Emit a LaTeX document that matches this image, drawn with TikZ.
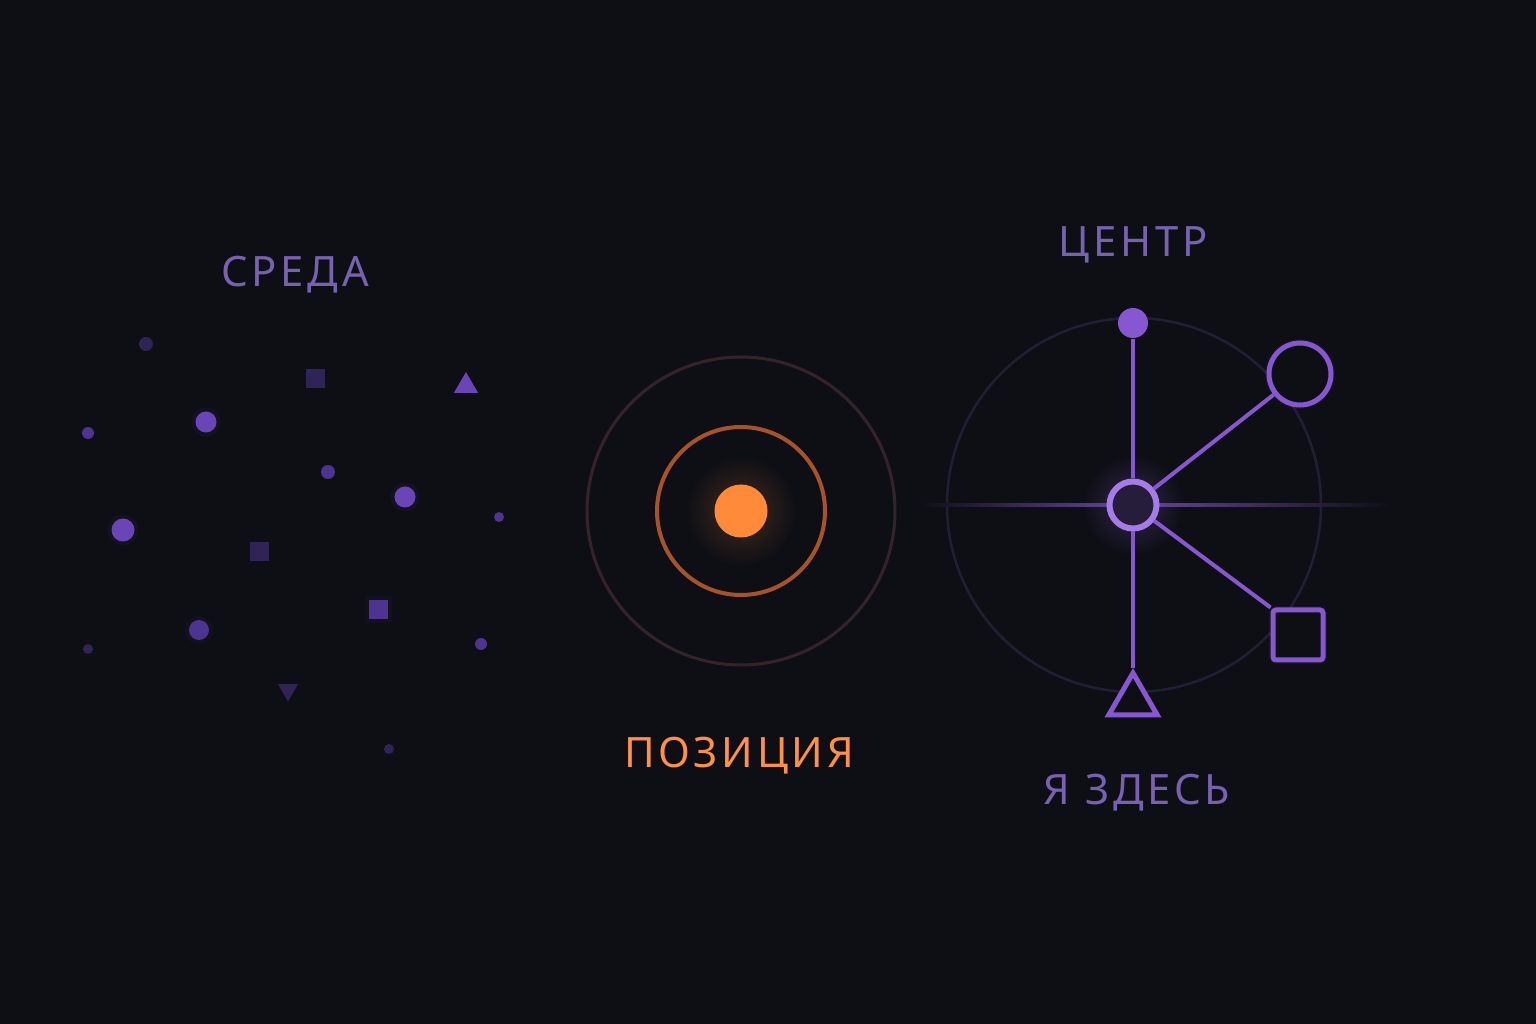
\documentclass[tikz,border=0pt]{standalone}
\usepackage{fontspec}
\usetikzlibrary{shapes.geometric}
\setmainfont{Noto Sans}
\newfontfamily\capsfont[LetterSpace=9]{Noto Sans}

\definecolor{bg}{HTML}{0E0F15}
\definecolor{litP}{HTML}{6A45B8}
\definecolor{midP}{HTML}{4D3491}
\definecolor{dimP}{HTML}{2F2455}
\definecolor{lineP}{HTML}{8657D0}
\definecolor{hubP}{HTML}{A47CE8}
\definecolor{faintP}{HTML}{231E33}
\definecolor{textP}{HTML}{7662B0}
\definecolor{dot}{HTML}{FF8A3A}
\definecolor{ringA}{HTML}{A8522A}
\definecolor{ringB}{HTML}{35232A}

\tikzset{
  speck/.style={circle, inner sep=0pt, draw=none},
  block/.style={rectangle, inner sep=0pt, draw=none},
  tri/.style={regular polygon, regular polygon sides=3, inner sep=0pt, draw=none},
  halo/.style={preaction={draw=#1, line width=0.8mm, opacity=.07}},
  spoke/.style={draw=lineP, line width=0.4mm},
  glyph/.style={draw=lineP, line width=0.5mm, fill=bg, inner sep=0pt},
  caption/.style={font=\capsfont\fontsize{11.9pt}{14pt}\selectfont}
}

\begin{document}
\begin{tikzpicture}[x=0.1mm, y=-0.1mm]
\fill[bg] (0,0) rectangle (1536,1024);
\useasboundingbox (0,0) rectangle (1536,1024);

% environment
\node[speck, fill=dimP, minimum size=1.4mm] (s1) at (146,344) {};
\node[block, fill=dimP, minimum size=1.9mm] (s2) at (315,379) {};
\node[tri, fill=litP, minimum size=2.8mm] (s3) at (466,386) {};
\node[speck, fill=litP, halo=litP, minimum size=2.1mm] (s4) at (206,422) {};
\node[speck, fill=midP, minimum size=1.2mm] (s5) at (88,433) {};
\node[speck, fill=midP, minimum size=1.4mm] (s6) at (328,472) {};
\node[speck, fill=litP, halo=litP, minimum size=2.1mm] (s7) at (405,497) {};
\node[speck, fill=midP, minimum size=1.0mm] (s8) at (499,517) {};
\node[speck, fill=litP, halo=litP, minimum size=2.3mm] (s9) at (123,530) {};
\node[block, fill=dimP, minimum size=1.9mm] (s10) at (259,552) {};
\node[block, fill=midP, halo=midP, minimum size=1.9mm] (s11) at (378,610) {};
\node[speck, fill=midP, halo=midP, minimum size=2.0mm] (s12) at (199,630) {};
\node[speck, fill=dimP, minimum size=1.0mm] (s13) at (88,649) {};
\node[speck, fill=midP, minimum size=1.2mm] (s14) at (481,644) {};
\node[tri, shape border rotate=180, fill=dimP, minimum size=2.3mm] (s15) at (288,690) {};
\node[speck, fill=dimP, minimum size=1.0mm] (s16) at (389,749) {};
\node[text=textP, caption] (env) at (295,275) {СРЕДА};

% position
\shade[inner color=dot!22!bg, outer color=bg] (741,511) circle (55);
\node[circle, draw=ringB, line width=0.3mm, minimum size=30.8mm] (outer) at (741,511) {};
\node[circle, draw=ringA, line width=0.4mm, minimum size=16.8mm] (inner) at (741,511) {};
\node[speck, fill=dot, minimum size=5.3mm] (me) at (741,511) {};
\node[text=dot!95!white, caption] (pos) at (739,756) {ПОЗИЦИЯ};

% centre
\draw[faintP, line width=0.25mm] (1134,505) circle (187);
\shade[inner color=lineP!30!bg, outer color=bg] (1133,505) circle (50);
\coordinate (west) at (920,505);
\coordinate (east) at (1390,505);
\shade[left color=bg, right color=lineP!75!bg] (west) ++(0,-1.5) rectangle (1133,506.5);
\shade[left color=lineP!75!bg, right color=bg] (1133,503.5) rectangle ([yshift=-0.15mm]east);
\node[circle, draw=hubP, line width=0.6mm, fill=bg!80!lineP, minimum size=4.7mm, inner sep=0pt] (hub) at (1133,505) {};
\node[speck, fill=lineP, minimum size=3.0mm] (top) at (1133,323) {};
\node[glyph, circle, minimum size=6.2mm, halo=lineP] (ring) at (1300,374) {};
\node[glyph, rectangle, rounded corners=0.3mm, minimum size=5.0mm, halo=lineP] (box) at (1298,635) {};
\node[glyph, regular polygon, regular polygon sides=3, minimum size=5.6mm] (cone) at (1133,701) {};
\draw[spoke] (hub) -- (top);
\draw[spoke] (hub) -- (ring);
\draw[spoke] (hub) -- (box.north west);
\draw[spoke] (hub) -- (cone.corner 1);
\node[text=textP, caption] (centre) at (1133,245) {ЦЕНТР};
\node[text=textP!90!lineP, caption] (here) at (1137,793) {Я ЗДЕСЬ};
\end{tikzpicture}
\end{document}
